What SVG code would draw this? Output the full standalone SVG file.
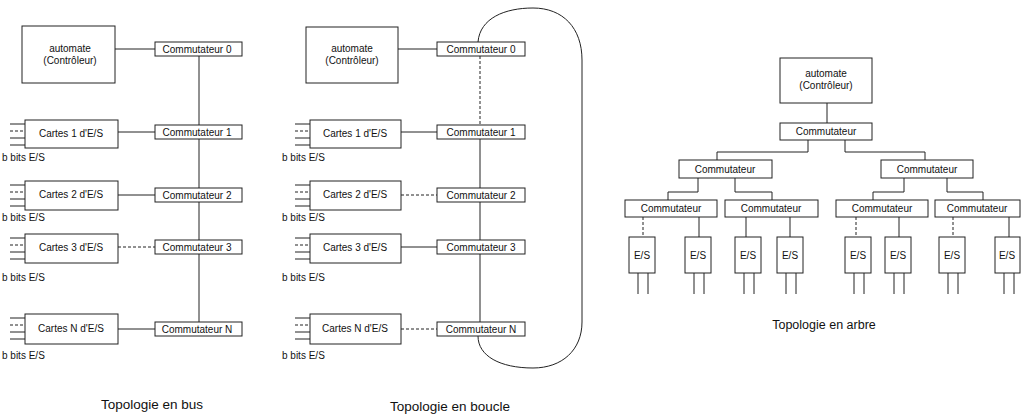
<svg xmlns="http://www.w3.org/2000/svg" width="1021" height="419" viewBox="0 0 1021 419">
<style>
.b{fill:#fff;stroke:#222;stroke-width:1}
.l{fill:none;stroke:#222;stroke-width:1}
.d{fill:none;stroke:#222;stroke-width:1;stroke-dasharray:3 2}
.t{font-family:"Liberation Sans",Arial,sans-serif;font-size:10px;fill:#111;text-anchor:middle}
.s{font-family:"Liberation Sans",Arial,sans-serif;font-size:10px;fill:#111}
.c{font-family:"Liberation Sans",Arial,sans-serif;font-size:13.5px;fill:#111;text-anchor:middle}
</style>
<rect width="1021" height="419" fill="#fff"/>
<defs>
<g id="stubs"><path class="l" d="M0,4H15M0,18H15M0,25H15"/><path class="d" d="M0,11H15"/></g>
</defs>

<g id="connectors">
<!-- bus -->
<path class="l" d="M115,49H155M199,56V322M118,132H155M118,195H155M118,329H155"/>
<path class="d" d="M118,247H155"/>
<use href="#stubs" x="10" y="120"/>
<use href="#stubs" x="10" y="181"/>
<use href="#stubs" x="10" y="234"/>
<use href="#stubs" x="10" y="314"/>
<!-- loop -->
<path class="l" d="M398,49H437M480,139V322M401,132H437M401,247H437"/>
<path class="d" d="M480,56V125M401,195H437M401,329H437"/>
<path class="l" d="M478,42C480,18 505,8 533,8C563,8 582,28 582,60L582,322C582,350 562,368 533,368C500,368 478,356 478,336"/>
<use href="#stubs" x="295" y="120"/>
<use href="#stubs" x="295" y="181"/>
<use href="#stubs" x="295" y="234"/>
<use href="#stubs" x="295" y="314"/>
<!-- tree -->
<path class="l" d="M827,103V123M808,140V152H717V160M845,140V152H925V160M698,178V192H668V200M735,178V192H772V200M904,178V192H873V200M947,178V192H983V200"/>
<path class="l" d="M699,217V237M746,217V237M790,217V237M899,217V237M1009,217V237"/>
<path class="d" d="M643,217V237M856,217V237M953,217V237"/>
<path class="l" d="M638,273V294M648,273V294M694,273V294M704,273V294M744,273V294M754,273V294M786,273V294M796,273V294M854,273V294M864,273V294M894,273V294M904,273V294M948,273V294M958,273V294M1004,273V294M1014,273V294"/>
</g>

<!-- bus topology -->
<g id="bus-automate"><rect class="b" x="22" y="26" width="93" height="57"/><text class="t" x="70" y="52">automate</text><text class="t" x="70" y="64">(Contrôleur)</text></g>
<g id="bus-c0"><rect class="b" x="155" y="42" width="87" height="14"/><text class="t" x="197" y="53">Commutateur 0</text></g>
<g id="bus-c1"><rect class="b" x="155" y="125" width="87" height="14"/><text class="t" x="197" y="136">Commutateur 1</text></g>
<g id="bus-c2"><rect class="b" x="155" y="188" width="87" height="14"/><text class="t" x="197" y="199">Commutateur 2</text></g>
<g id="bus-c3"><rect class="b" x="155" y="240" width="87" height="14"/><text class="t" x="197" y="251">Commutateur 3</text></g>
<g id="bus-cn"><rect class="b" x="155" y="322" width="87" height="14"/><text class="t" x="197" y="333">Commutateur N</text></g>
<g id="bus-io1"><rect class="b" x="25" y="120" width="93" height="28"/><text class="t" x="71" y="137">Cartes 1 d'E/S</text><text class="s" x="2" y="161">b bits E/S</text></g>
<g id="bus-io2"><rect class="b" x="25" y="181" width="93" height="29"/><text class="t" x="71" y="198">Cartes 2 d'E/S</text><text class="s" x="2" y="221">b bits E/S</text></g>
<g id="bus-io3"><rect class="b" x="25" y="234" width="93" height="29"/><text class="t" x="71" y="251">Cartes 3 d'E/S</text><text class="s" x="2" y="281">b bits E/S</text></g>
<g id="bus-ion"><rect class="b" x="25" y="314" width="93" height="30"/><text class="t" x="71" y="332">Cartes N d'E/S</text><text class="s" x="2" y="359">b bits E/S</text></g>
<text class="c" x="152" y="409">Topologie en bus</text>

<!-- loop topology -->
<g id="loop-automate"><rect class="b" x="306" y="27" width="92" height="56"/><text class="t" x="352" y="52">automate</text><text class="t" x="352" y="64">(Contrôleur)</text></g>
<g id="loop-c0"><rect class="b" x="437" y="42" width="88" height="14"/><text class="t" x="481" y="53">Commutateur 0</text></g>
<g id="loop-c1"><rect class="b" x="437" y="125" width="88" height="14"/><text class="t" x="481" y="136">Commutateur 1</text></g>
<g id="loop-c2"><rect class="b" x="437" y="188" width="88" height="14"/><text class="t" x="481" y="199">Commutateur 2</text></g>
<g id="loop-c3"><rect class="b" x="437" y="240" width="88" height="14"/><text class="t" x="481" y="251">Commutateur 3</text></g>
<g id="loop-cn"><rect class="b" x="437" y="322" width="88" height="14"/><text class="t" x="481" y="333">Commutateur N</text></g>
<g id="loop-io1"><rect class="b" x="310" y="120" width="91" height="28"/><text class="t" x="355" y="137">Cartes 1 d'E/S</text><text class="s" x="282" y="161">b bits E/S</text></g>
<g id="loop-io2"><rect class="b" x="310" y="181" width="91" height="29"/><text class="t" x="355" y="198">Cartes 2 d'E/S</text><text class="s" x="282" y="221">b bits E/S</text></g>
<g id="loop-io3"><rect class="b" x="310" y="234" width="91" height="29"/><text class="t" x="355" y="251">Cartes 3 d'E/S</text><text class="s" x="282" y="281">b bits E/S</text></g>
<g id="loop-ion"><rect class="b" x="310" y="314" width="91" height="30"/><text class="t" x="355" y="332">Cartes N d'E/S</text><text class="s" x="282" y="359">b bits E/S</text></g>
<text class="c" x="450" y="411">Topologie en boucle</text>

<!-- tree topology -->
<g id="tree-automate"><rect class="b" x="780" y="58" width="92" height="45"/><text class="t" x="826" y="77">automate</text><text class="t" x="826" y="89">(Contrôleur)</text></g>
<g id="tree-c"><rect class="b" x="780" y="123" width="92" height="17"/><text class="t" x="826" y="135">Commutateur</text></g>
<g id="tree-cl"><rect class="b" x="679" y="160" width="93" height="18"/><text class="t" x="725" y="173">Commutateur</text></g>
<g id="tree-cr"><rect class="b" x="881" y="160" width="92" height="18"/><text class="t" x="927" y="173">Commutateur</text></g>
<g id="tree-c1"><rect class="b" x="625" y="200" width="92" height="17"/><text class="t" x="671" y="212">Commutateur</text></g>
<g id="tree-c2"><rect class="b" x="725" y="200" width="93" height="17"/><text class="t" x="771" y="212">Commutateur</text></g>
<g id="tree-c3"><rect class="b" x="836" y="200" width="92" height="17"/><text class="t" x="882" y="212">Commutateur</text></g>
<g id="tree-c4"><rect class="b" x="935" y="200" width="85" height="17"/><text class="t" x="977" y="212">Commutateur</text></g>
<g id="tree-io1"><rect class="b" x="629" y="237" width="26" height="36"/><text class="t" x="642" y="259">E/S</text></g>
<g id="tree-io2"><rect class="b" x="685" y="237" width="26" height="36"/><text class="t" x="698" y="259">E/S</text></g>
<g id="tree-io3"><rect class="b" x="735" y="237" width="26" height="36"/><text class="t" x="748" y="259">E/S</text></g>
<g id="tree-io4"><rect class="b" x="777" y="237" width="26" height="36"/><text class="t" x="790" y="259">E/S</text></g>
<g id="tree-io5"><rect class="b" x="845" y="237" width="26" height="36"/><text class="t" x="858" y="259">E/S</text></g>
<g id="tree-io6"><rect class="b" x="885" y="237" width="26" height="36"/><text class="t" x="898" y="259">E/S</text></g>
<g id="tree-io7"><rect class="b" x="939" y="237" width="26" height="36"/><text class="t" x="952" y="259">E/S</text></g>
<g id="tree-io8"><rect class="b" x="995" y="237" width="25" height="36"/><text class="t" x="1007" y="259">E/S</text></g>
<text class="c" x="824" y="329" style="font-size:12.5px">Topologie en arbre</text>
</svg>
